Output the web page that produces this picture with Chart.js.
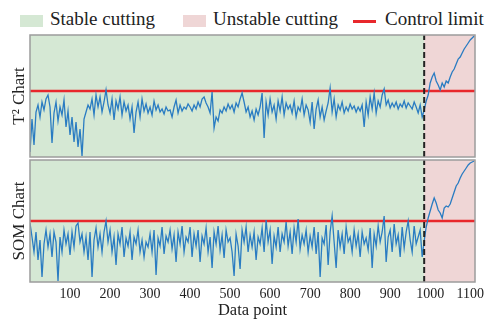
<!DOCTYPE html>
<html>
<head>
  <title>T2 / SOM control charts</title>
  <script src="https://cdn.jsdelivr.net/npm/chart.js"></script>
  <style>
    body { margin: 0; width: 486px; height: 323px; background: #fff; position: relative; overflow: hidden; font-family: 'Liberation Serif', serif; color: #222; }
    .lg { position: absolute; top: 8px; font-size: 19px; line-height: 22px; white-space: nowrap; }
    .box { position: absolute; top: 15px; width: 23px; height: 12px; }
    .pane { position: absolute; left: 0; }
  </style>
</head>
<body>
  <div class="box" style="left:20px;background:#d5e8d4"></div>
  <div class="lg" style="left:50px">Stable cutting</div>
  <div class="box" style="left:183px;background:#efd6d6"></div>
  <div class="lg" style="left:213px">Unstable cutting</div>
  <div class="box" style="left:353px;top:20px;height:3px;background:#e8282c"></div>
  <div class="lg" style="left:385px">Control limit</div>

  <div class="pane" style="top:0"><canvas id="t2Chart" width="486" height="160"></canvas></div>
  <div class="pane" style="top:158px"><canvas id="somChart" width="486" height="165"></canvas></div>
  <script>
    // sampled every 5 data points, heights in arbitrary units (0 = panel floor)
    const step = 5;
    const xMax = 1112;
    const shiftAt = 985;          // start of unstable cutting
    const t2Limit = 66;
    const somLimit = 61;
    const xTicks = [100, 200, 300, 400, 500, 600, 700, 800, 900, 1000, 1100];

    const t2Values = [
      5, 38, 12, 45, 52, 40, 55, 47, 58, 62,
      50, 14, 44, 55, 36, 50, 42, 57, 30, 46,
      22, 40, 15, 35, 10, 28, 1, 38, 45, 52,
      48, 58, 42, 62, 50, 60, 45, 55, 67, 52,
      44, 58, 37, 56, 48, 60, 42, 55, 46, 52,
      38, 50, 24, 45, 55, 40, 58, 46, 53, 44,
      50, 42, 56, 47, 52, 45, 48, 43, 50, 46,
      47, 40, 50, 57, 44, 52, 46, 50, 48, 53,
      50, 46, 52, 48, 55, 50, 58, 60, 54, 50,
      44, 65, 29, 40, 36, 47, 44, 50, 46, 53,
      48, 52, 45, 54, 50, 58, 64, 55, 45, 50,
      40, 46, 37, 48, 42, 50, 64, 19, 55, 42,
      58, 45, 52, 38, 56, 46, 60, 42, 54, 48,
      52, 44, 56, 40, 50, 46, 58, 42, 52, 47,
      35, 55, 28, 48, 57, 40, 50, 37, 46, 54,
      69, 45, 58, 40, 52, 47, 55, 44, 50, 46,
      53, 48, 51, 45, 50, 46, 52, 30, 55, 42,
      60, 48, 64, 44, 56, 50, 62, 68, 52, 57,
      49, 54, 50, 55, 48, 53, 50, 56, 49, 54,
      51, 48, 55, 50, 44, 52, 40, 47, 56, 62,
      74, 80, 84, 76, 72, 67, 74, 70, 76, 74,
      80, 85, 88, 93, 98, 100, 104, 108, 111, 114,
      117, 119, 121
    ];

    const somValues = [
      59, 45, 30, 50, 22, 42, 5, 38, 52, 35,
      48, 25, 50, 40, 1, 45, 30, 52, 38, 48,
      27, 50, 35, 56, 59, 40, 48, 30, 45, 22,
      50, 5, 42, 54, 35, 48, 30, 50, 61, 40,
      52, 30, 45, 17, 48, 38, 55, 25, 44, 36,
      50, 22, 45, 38, 52, 30, 42, 25, 40, 35,
      48, 30, 52, 7, 44, 36, 55, 28, 46, 40,
      52, 33, 47, 20, 50, 38, 56, 30, 45, 40,
      55, 25, 48, 36, 52, 20, 46, 38, 54, 30,
      45, 14, 50, 38, 56, 32, 47, 24, 52, 40,
      44, 30, 6, 48, 36, 13, 52, 40, 55, 30,
      47, 35, 50, 22, 45, 38, 54, 30, 62, 40,
      52, 18, 46, 35, 55, 30, 48, 40, 60, 36,
      50, 28, 54, 40, 63, 33, 47, 38, 52, 30,
      46, 35, 55, 28, 50, 5, 44, 38, 57, 17,
      50, 66, 40, 14, 52, 35, 48, 28, 55, 40,
      45, 30, 52, 36, 48, 25, 50, 38, 44, 32,
      54, 14, 48, 36, 56, 40, 50, 66, 20, 45,
      52, 30, 58, 38, 47, 25, 55, 34, 50, 61,
      42, 30, 56, 38, 45, 52, 25, 41, 55, 64,
      71, 78, 84, 79, 72, 69, 64, 74, 76, 75,
      78, 84, 90, 96, 99, 104, 108, 111, 114, 117,
      119, 120, 121
    ];

    const stableColor = '#d5e8d4';
    const unstableColor = '#efd6d6';

    Chart.defaults.font.family = "'Liberation Serif', serif";
    Chart.defaults.color = '#222';

    const panelBg = {
      id: 'panelBg',
      beforeDraw(chart) {
        const { ctx, chartArea: a, scales: { x } } = chart;
        const split = x.getPixelForValue(shiftAt);
        ctx.save();
        ctx.fillStyle = stableColor;
        ctx.fillRect(a.left, a.top, split - a.left, a.bottom - a.top);
        ctx.fillStyle = unstableColor;
        ctx.fillRect(split, a.top, a.right - split, a.bottom - a.top);
        ctx.restore();
      },
      afterDraw(chart) {
        const { ctx, chartArea: a } = chart;
        ctx.save();
        ctx.strokeStyle = '#9c9c9c';
        ctx.lineWidth = 1.5;
        ctx.strokeRect(a.left, a.top, a.right - a.left, a.bottom - a.top);
        ctx.restore();
      }
    };

    function makePanel(id, values, limit, yTitle, showX, padding) {
      const pts = values.map((v, i) => ({ x: i * step, y: v }));
      return new Chart(document.getElementById(id), {
        type: 'line',
        data: {
          datasets: [
            { data: [{ x: shiftAt, y: 0 }, { x: shiftAt, y: 122 }], borderColor: '#222', borderWidth: 2, borderDash: [6, 3], pointRadius: 0 },
            { data: pts, borderColor: '#2a7cc2', borderWidth: 1.3, pointRadius: 0, tension: 0 },
            { data: [{ x: 0, y: limit }, { x: xMax, y: limit }], borderColor: '#e8282c', borderWidth: 2.5, pointRadius: 0 }
          ]
        },
        options: {
          responsive: false,
          animation: false,
          layout: { padding },
          plugins: { legend: { display: false }, tooltip: { enabled: false } },
          scales: {
            x: {
              type: 'linear', min: 0, max: xMax, display: showX,
              grid: { display: false, drawTicks: false }, border: { display: false },
              afterBuildTicks: s => { s.ticks = xTicks.map(v => ({ value: v })); },
              afterFit: s => { if (showX) { s.height = 41; s.paddingLeft = 0; s.paddingRight = 0; } },
              ticks: { padding: 4, font: { size: 14 }, callback: v => String(v) },
              title: { display: true, text: 'Data point', font: { size: 16.5, lineHeight: 1 }, padding: { top: 0, bottom: 3.7 } }
            },
            y: {
              min: 0, max: 122,
              grid: { display: false, drawTicks: false }, border: { display: false },
              afterFit: s => { s.width = 30; },
              ticks: { display: false },
              title: { display: true, text: yTitle, font: { size: 17 }, padding: { top: 9.6, bottom: 0 } }
            }
          }
        },
        plugins: [panelBg]
      });
    }

    makePanel('t2Chart', t2Values, t2Limit, 'T² Chart', false, { top: 35, right: 11, bottom: 3, left: 0 });
    makePanel('somChart', somValues, somLimit, 'SOM Chart', true, { top: 2, right: 11, bottom: 0, left: 0 });
  </script>
</body>
</html>
